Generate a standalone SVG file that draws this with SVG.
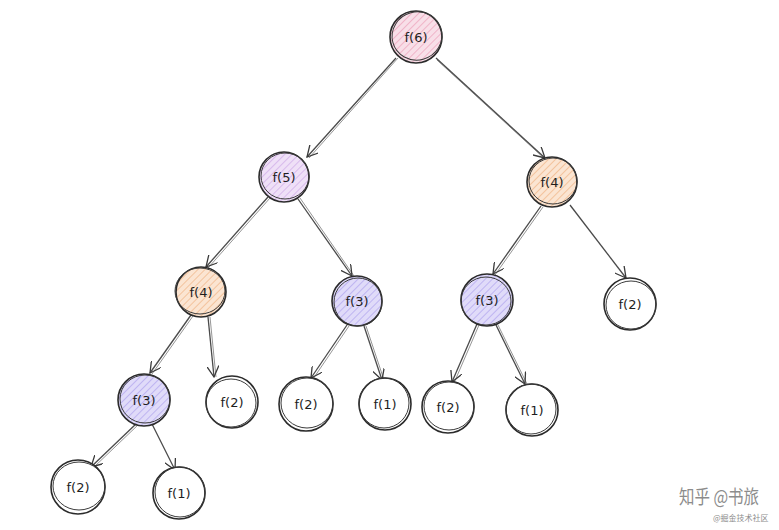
<svg xmlns="http://www.w3.org/2000/svg" width="779" height="530" viewBox="0 0 779 530">
<style>
.bg{fill:#ffffff}
.n{stroke:#2b2b2b;stroke-width:1.6}
.n2{fill:none;stroke:#3a3a3a;stroke-width:1}
.t{font-family:"DejaVu Sans","Liberation Sans",sans-serif;font-size:13px;fill:#1e1e1e;text-anchor:middle;dominant-baseline:central}
.e{fill:none;stroke:#4a4a4a;stroke-width:1.3;marker-end:url(#arr)}
.e2{fill:none;stroke:#8a8a8a;stroke-width:0.9}
.w{font-family:"Noto Sans CJK SC","Noto Sans",sans-serif;fill:#8c8c8c}
.pk{fill:url(#hpk)}.pu{fill:url(#hpu)}.or{fill:url(#hor)}.lv{fill:url(#hlv)}.wh{fill:#ffffff}
</style>
<defs>
<marker id="arr" viewBox="0 0 12 12" refX="11" refY="6" markerWidth="12" markerHeight="12" markerUnits="userSpaceOnUse" orient="auto">
<path d="M0,0 L11,6 L0,12" fill="none" stroke="#3a3a3a" stroke-width="1.3"/>
</marker>
<pattern id="hpk" patternUnits="userSpaceOnUse" width="5" height="5" patternTransform="rotate(45)">
<rect width="5" height="5" fill="#f8dfe8"/><line x1="0" y1="0" x2="0" y2="5" stroke="#eea9c0" stroke-width="1.6"/>
</pattern>
<pattern id="hpu" patternUnits="userSpaceOnUse" width="5" height="5" patternTransform="rotate(45)">
<rect width="5" height="5" fill="#efe0f7"/><line x1="0" y1="0" x2="0" y2="5" stroke="#d3b0ea" stroke-width="1.6"/>
</pattern>
<pattern id="hor" patternUnits="userSpaceOnUse" width="5" height="5" patternTransform="rotate(45)">
<rect width="5" height="5" fill="#fbe5d2"/><line x1="0" y1="0" x2="0" y2="5" stroke="#f1bb90" stroke-width="1.6"/>
</pattern>
<pattern id="hlv" patternUnits="userSpaceOnUse" width="5" height="5" patternTransform="rotate(45)">
<rect width="5" height="5" fill="#e0dbf9"/><line x1="0" y1="0" x2="0" y2="5" stroke="#b6aaef" stroke-width="1.6"/>
</pattern>
</defs>
<rect class="bg" width="779" height="530"/>

<g id="connectors">
<path class="e2" d="M398,58 L309,158"/><path class="e" d="M396,58 L307,157"/>
<path class="e2" d="M437,60 L546,160"/><path class="e" d="M436,58 L545,158"/>
<path class="e2" d="M270,198 L208,268"/><path class="e" d="M268,197 L206,267"/>
<path class="e2" d="M300,198 L354,276"/><path class="e" d="M298,199 L352,276"/>
<path class="e2" d="M543,207 L495,275"/><path class="e" d="M541,206 L493,274"/>
<path class="e" d="M570,205 L626,278"/>
<path class="e2" d="M193,316 L152,374"/><path class="e" d="M191,315 L150,373"/>
<path class="e2" d="M210,317 L216,377"/><path class="e" d="M208,317 L214,377"/>
<path class="e2" d="M349,326 L313,379"/><path class="e" d="M347,325 L311,378"/>
<path class="e2" d="M366,326 L384,380"/><path class="e" d="M364,326 L382,380"/>
<path class="e2" d="M479,325 L454,383"/><path class="e" d="M477,324 L452,382"/>
<path class="e2" d="M498,325 L527,384"/><path class="e" d="M496,325 L525,384"/>
<path class="e2" d="M139,424 L93,468"/><path class="e" d="M137,423 L91,467"/>
<path class="e" d="M152,424 L175,470"/>
</g>

<g id="n-f6"><circle class="n pk" cx="416" cy="37" r="26"/><ellipse class="n2" cx="417" cy="36" rx="25" ry="24" transform="rotate(-15 417 36)"/><text class="t" x="416" y="37">f(6)</text></g>
<g id="n-f5"><circle class="n pu" cx="284" cy="177" r="25"/><ellipse class="n2" cx="285" cy="176" rx="24" ry="23"/><text class="t" x="284" y="177">f(5)</text></g>
<g id="n-f4r"><circle class="n or" cx="552" cy="182" r="25"/><ellipse class="n2" cx="553" cy="181" rx="24" ry="23"/><text class="t" x="552" y="182">f(4)</text></g>
<g id="n-f4l"><circle class="n or" cx="201" cy="292" r="25"/><ellipse class="n2" cx="200" cy="291" rx="25" ry="23"/><text class="t" x="201" y="292">f(4)</text></g>
<g id="n-f3m"><circle class="n lv" cx="357" cy="301" r="25"/><ellipse class="n2" cx="358" cy="302" rx="24" ry="24"/><text class="t" x="357" y="301">f(3)</text></g>
<g id="n-f3r"><circle class="n lv" cx="487" cy="300" r="26"/><ellipse class="n2" cx="486" cy="301" rx="25" ry="24"/><text class="t" x="487" y="300">f(3)</text></g>
<g id="n-f2r"><circle class="n wh" cx="630" cy="304" r="26"/><ellipse class="n2" cx="631" cy="305" rx="25" ry="24"/><text class="t" x="630" y="304">f(2)</text></g>
<g id="n-f3l"><circle class="n lv" cx="144" cy="400" r="26"/><ellipse class="n2" cx="145" cy="399" rx="25" ry="24"/><text class="t" x="144" y="400">f(3)</text></g>
<g id="n-f2a"><circle class="n wh" cx="232" cy="402" r="26"/><ellipse class="n2" cx="231" cy="403" rx="25" ry="24"/><text class="t" x="232" y="402">f(2)</text></g>
<g id="n-f2b"><circle class="n wh" cx="306" cy="404" r="27"/><ellipse class="n2" cx="307" cy="403" rx="26" ry="25"/><text class="t" x="306" y="404">f(2)</text></g>
<g id="n-f1a"><circle class="n wh" cx="385" cy="404" r="26"/><ellipse class="n2" cx="384" cy="403" rx="25" ry="25"/><text class="t" x="385" y="404">f(1)</text></g>
<g id="n-f2c"><circle class="n wh" cx="448" cy="407" r="26"/><ellipse class="n2" cx="449" cy="406" rx="25" ry="24"/><text class="t" x="448" y="407">f(2)</text></g>
<g id="n-f1b"><circle class="n wh" cx="532" cy="410" r="26"/><ellipse class="n2" cx="531" cy="409" rx="25" ry="25"/><text class="t" x="532" y="410">f(1)</text></g>
<g id="n-f2d"><circle class="n wh" cx="78" cy="487" r="27"/><ellipse class="n2" cx="79" cy="486" rx="26" ry="24"/><text class="t" x="78" y="487">f(2)</text></g>
<g id="n-f1c"><circle class="n wh" cx="179" cy="493" r="26"/><ellipse class="n2" cx="180" cy="492" rx="25" ry="25"/><text class="t" x="179" y="493">f(1)</text></g>

<text class="w" x="679" y="504" font-size="19" textLength="80" lengthAdjust="spacingAndGlyphs">知乎 @书旅</text>
<text class="w" x="713" y="521" font-size="8" fill="#666">@掘金技术社区</text>
</svg>
